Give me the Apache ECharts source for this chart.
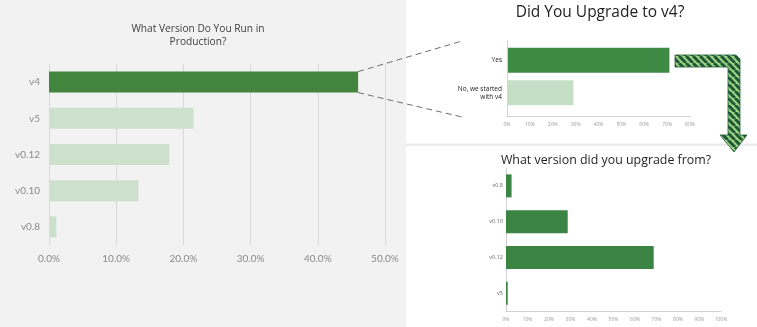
<!DOCTYPE html>
<html><head><meta charset="utf-8">
<script src="https://cdn.jsdelivr.net/npm/echarts@6/dist/echarts.min.js"></script>
<style>html,body{margin:0;padding:0;background:#fff}#c{width:757px;height:327px}</style>
</head><body><div id="c"></div>
<script>
// ---- data ----
const prodCategories = ['v4', 'v5', 'v0.12', 'v0.10', 'v0.8'];
const prodValues = [46.0, 21.5, 17.9, 13.3, 1.1];
const prodTicks = ['0.0%', '10.0%', '20.0%', '30.0%', '40.0%', '50.0%'];

const upgradeCategories = ['Yes', 'No, we started\nwith v4'];
const upgradeValues = [71, 29];
const upgradeTicks = ['0%', '10%', '20%', '30%', '40%', '50%', '60%', '70%', '80%'];

const fromCategories = ['v0.8', 'v0.10', 'v0.12', 'v5'];
const fromValues = [2.6, 28.7, 68.7, 0.8];
const fromTicks = ['0%', '10%', '20%', '30%', '40%', '50%', '60%', '70%', '80%', '90%', '100%'];

const titles = ['What Version Do You Run in\nProduction?', 'Did You Upgrade to v4?', 'What version did you upgrade from?'];

// ---- chart ----
const chart = echarts.init(document.getElementById('c'), null, {renderer: 'canvas'});
const F = 'Open Sans';
const DARK = '#43843f', LIGHT = '#cde0cc';

const option = {
  backgroundColor: '#ffffff',
  animation: false,
  title: [
    {text: titles[0], left: 193, top: 17, textAlign: 'center',
     textStyle: {fontFamily: F, fontSize: 10.2, fontWeight: 'normal', color: '#404040', lineHeight: 13.5}},
    {text: titles[1], left: 595, top: 0, textAlign: 'center',
     textStyle: {fontFamily: F, fontSize: 15.5, fontWeight: 'normal', color: '#1f1f1f'}},
    {text: titles[2], left: 601, top: 149, textAlign: 'center',
     textStyle: {fontFamily: F, fontSize: 12.4, fontWeight: 'normal', color: '#1f1f1f'}}
  ],
  grid: [
    {left: 49, width: 336, top: 64, height: 181},
    {left: 507, width: 183, top: 44, height: 65},
    {left: 506, width: 215, top: 168, height: 143}
  ],
  xAxis: [
    {gridIndex: 0, type: 'value', min: 0, max: 50, interval: 10,
     axisLine: {show: false}, axisTick: {show: false},
     splitLine: {show: true, lineStyle: {color: '#d9d9d9', width: 1}},
     axisLabel: {fontFamily: 'Lato', fontSize: 10, color: '#8a8a8a', margin: 9,
       formatter: v => prodTicks[Math.round(v / 10)]}},
    {gridIndex: 1, type: 'value', min: 0, max: 80, interval: 10, offset: 7,
     axisLine: {show: true, lineStyle: {color: '#d0d0d0'}}, axisTick: {show: false},
     splitLine: {show: false},
     axisLabel: {fontFamily: F, fontSize: 5, color: '#999', margin: 6,
       formatter: v => upgradeTicks[Math.round(v / 10)]}},
    {gridIndex: 2, type: 'value', min: 0, max: 100, interval: 10,
     axisLine: {show: true, lineStyle: {color: '#d0d0d0'}}, axisTick: {show: false},
     splitLine: {show: false},
     axisLabel: {fontFamily: F, fontSize: 5, color: '#999', margin: 6,
       formatter: v => fromTicks[Math.round(v / 10)]}}
  ],
  yAxis: [
    {gridIndex: 0, type: 'category', data: prodCategories, inverse: true,
     axisLine: {show: false}, axisTick: {show: false},
     axisLabel: {fontFamily: 'Lato', fontSize: 10, color: '#8a8a8a', margin: 9}},
    {gridIndex: 1, type: 'category', data: upgradeCategories, inverse: true,
     axisLine: {show: false}, axisTick: {show: false},
     axisLabel: {fontFamily: F, fontSize: 6.5, color: '#222', margin: 5, lineHeight: 8}},
    {gridIndex: 2, type: 'category', data: fromCategories, inverse: true,
     axisLine: {show: true, lineStyle: {color: '#d0d0d0'}}, axisTick: {show: false},
     axisLabel: {fontFamily: F, fontSize: 5.5, color: '#666', margin: 3}}
  ],
  series: [
    {type: 'bar', xAxisIndex: 0, yAxisIndex: 0, barWidth: 21,
     data: prodValues.map((v, i) => ({value: v, itemStyle: {color: i === 0 ? DARK : LIGHT}}))},
    {type: 'bar', xAxisIndex: 1, yAxisIndex: 1, barWidth: 25,
     data: upgradeValues.map((v, i) => ({value: v, itemStyle: {color: i === 0 ? '#3e8a44' : '#c5dfc7'}}))},
    {type: 'bar', xAxisIndex: 2, yAxisIndex: 2, barWidth: 23,
     itemStyle: {color: '#3b8443'}, data: fromValues}
  ]
};
chart.setOption(option);

// decorations derived from the chart's own scales
const endPt = chart.convertToPixel({gridIndex: 0}, [prodValues[0], prodCategories[0]]);

const pc = document.createElement('canvas');
pc.width = 7; pc.height = 7;
const ctx = pc.getContext('2d');
ctx.fillStyle = '#9fd083'; ctx.fillRect(0, 0, 7, 7);
ctx.strokeStyle = '#1c5a36'; ctx.lineWidth = 3;
for (let k = -7; k <= 7; k += 7) { ctx.beginPath(); ctx.moveTo(k, 0); ctx.lineTo(k + 7, 7); ctx.stroke(); }

chart.setOption({
  graphic: [
    {type: 'rect', z: -10, silent: true, shape: {x: 0, y: 0, width: 406, height: 327}, style: {fill: '#f2f2f2'}},
    {type: 'rect', z: -10, silent: true, shape: {x: 406, y: 143.5, width: 351, height: 2.5}, style: {fill: '#ebebeb'}},
    {type: 'line', z: 5, silent: true, shape: {x1: 507.5, y1: 40, x2: 507.5, y2: 116}, style: {stroke: '#d0d0d0', lineWidth: 1}},
    {type: 'line', z: 5, silent: true, shape: {x1: endPt[0], y1: endPt[1] - 10.5, x2: 462, y2: 41},
     style: {stroke: '#6e6e6e', lineWidth: 1, lineDash: [6, 4]}},
    {type: 'line', z: 5, silent: true, shape: {x1: endPt[0], y1: endPt[1] + 10.5, x2: 462, y2: 117},
     style: {stroke: '#6e6e6e', lineWidth: 1, lineDash: [6, 4]}},
    {type: 'polygon', z: 5, silent: true,
     shape: {points: [[675, 55], [736, 55], [740, 59], [740, 135], [747, 135], [734, 152], [720, 135], [728, 135], [728, 67], [675, 67]]},
     style: {fill: {image: pc, repeat: 'repeat'}, stroke: '#1c5a36', lineWidth: 0.8}}
  ]
});
</script></body></html>
